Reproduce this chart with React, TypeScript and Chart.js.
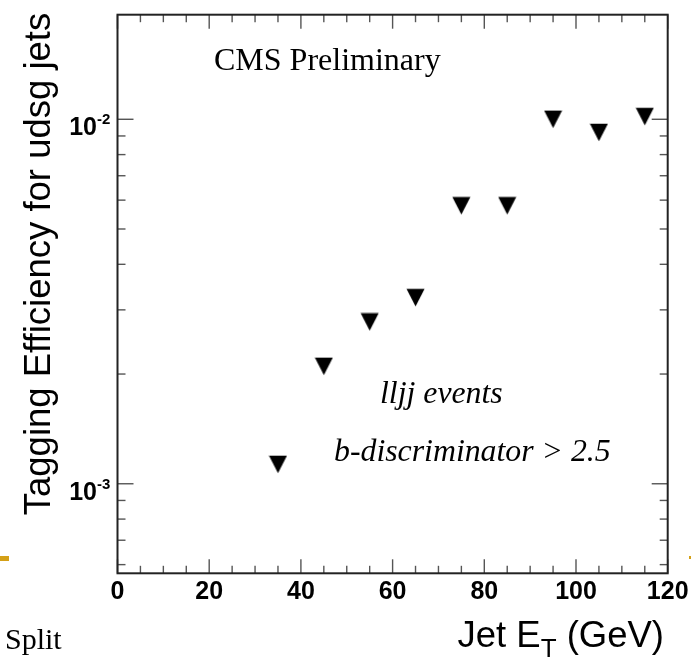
import React, { useEffect, useRef } from "react";
import { Chart, registerables } from "chart.js";

Chart.register(...registerables);

// ---- data ----
const jetEt = [35, 45, 55, 65, 75, 85, 95, 105, 115];
const udsgEfficiency = [0.00113, 0.0021, 0.00278, 0.00324, 0.00579, 0.00579, 0.0100, 0.0092, 0.01017];

const xMajorTicks = [0, 20, 40, 60, 80, 100, 120];
const xMinorStep = 5;
const yDecades = [-3, -2];
const yMinorMultipliers = [2, 3, 4, 5, 6, 7, 8, 9];

const X_MIN = 0;
const X_MAX = 120;
const Y_MIN = 0.000568;
const Y_MAX = 0.01936;

const yTitle = "Tagging Efficiency for udsg jets";
const xTitleMain = "Jet E";
const xTitleSub = "T";
const xTitleTail = " (GeV)";
const cmsLabel = "CMS Preliminary";
const noteLine1 = "lljj events";
const noteLine2 = "b-discriminator > 2.5";
const slideLabel = "Split";

function makeTriangle(): HTMLCanvasElement {
  const c = document.createElement("canvas");
  c.width = 19;
  c.height = 19;
  const g = c.getContext("2d")!;
  g.fillStyle = "#000";
  g.beginPath();
  g.moveTo(0.5, 0.8);
  g.lineTo(18.5, 0.8);
  g.lineTo(9.5, 18.3);
  g.closePath();
  g.fill();
  return c;
}

const rootStyle = {
  id: "rootStyle",
  afterDraw(chart: any) {
    const { ctx, chartArea: a } = chart;
    const xs = chart.scales.x;
    const ys = chart.scales.y;
    ctx.save();

    // tick marks (inside frame, all four sides)
    ctx.strokeStyle = "#555";
    ctx.lineWidth = 1.4;
    const line = (x1: number, y1: number, x2: number, y2: number) => {
      ctx.beginPath();
      ctx.moveTo(x1, y1);
      ctx.lineTo(x2, y2);
      ctx.stroke();
    };
    for (let v = X_MIN; v <= X_MAX; v += xMinorStep) {
      const px = xs.getPixelForValue(v);
      const len = xMajorTicks.includes(v) ? 14 : 7.5;
      line(px, a.bottom, px, a.bottom - len);
      line(px, a.top, px, a.top + len);
    }
    for (const d of [-4, ...yDecades]) {
      const base = Math.pow(10, d);
      const pMaj = ys.getPixelForValue(base);
      if (base >= Y_MIN && base <= Y_MAX) {
        line(a.left, pMaj, a.left + 16, pMaj);
        line(a.right, pMaj, a.right - 16, pMaj);
      }
      for (const m of yMinorMultipliers) {
        const v = m * base;
        if (v < Y_MIN || v > Y_MAX) continue;
        const p = ys.getPixelForValue(v);
        line(a.left, p, a.left + 8, p);
        line(a.right, p, a.right - 8, p);
      }
    }

    // frame
    ctx.strokeStyle = "#222";
    ctx.lineWidth = 2;
    ctx.strokeRect(a.left, a.top, a.right - a.left, a.bottom - a.top);

    // x tick labels
    ctx.fillStyle = "#000";
    ctx.font = 'bold 25px "Liberation Sans", Arial, sans-serif';
    ctx.textAlign = "center";
    ctx.textBaseline = "alphabetic";
    for (const v of xMajorTicks) {
      ctx.fillText(String(v), xs.getPixelForValue(v), 599);
    }

    // y tick labels 10^d
    for (const d of yDecades) {
      const p = ys.getPixelForValue(Math.pow(10, d));
      ctx.font = 'bold 25px "Liberation Sans", Arial, sans-serif';
      ctx.textAlign = "right";
      ctx.fillText("10", 97, p + 16);
      ctx.font = 'bold 15px "Liberation Sans", Arial, sans-serif';
      ctx.textAlign = "left";
      ctx.fillText(String(d), 97, p + 5);
    }

    // y title
    ctx.save();
    ctx.translate(50, 264);
    ctx.rotate(-Math.PI / 2);
    ctx.font = '36.5px "Liberation Sans", Arial, sans-serif';
    ctx.textAlign = "center";
    ctx.textBaseline = "alphabetic";
    ctx.fillText(yTitle, 0, 0);
    ctx.restore();

    // x title
    const bigFont = '36.5px "Liberation Sans", Arial, sans-serif';
    const subFont = '26px "Liberation Sans", Arial, sans-serif';
    ctx.textAlign = "left";
    ctx.font = bigFont;
    const w1 = ctx.measureText(xTitleMain).width;
    const w3 = ctx.measureText(xTitleTail).width;
    ctx.font = subFont;
    const w2 = ctx.measureText(xTitleSub).width;
    const right = 664;
    let sx = right - (w1 + w2 + w3);
    ctx.font = bigFont;
    ctx.fillText(xTitleMain, sx, 647);
    sx += w1;
    ctx.font = subFont;
    ctx.fillText(xTitleSub, sx, 657);
    sx += w2;
    ctx.font = bigFont;
    ctx.fillText(xTitleTail, sx, 647);

    // annotations
    ctx.font = '32px "Liberation Serif", "Times New Roman", serif';
    ctx.fillText(cmsLabel, 214, 70);
    ctx.font = 'italic 31.8px "Liberation Serif", "Times New Roman", serif';
    ctx.fillText(noteLine1, 380, 403);
    ctx.fillText(noteLine2, 334, 461);

    ctx.restore();
  },
};

export default function App() {
  const ref = useRef<HTMLCanvasElement | null>(null);

  useEffect(() => {
    if (!ref.current) return;
    const tri = makeTriangle();
    const chart = new Chart(ref.current, {
      type: "scatter",
      data: {
        datasets: [
          {
            data: jetEt.map((x, i) => ({ x, y: udsgEfficiency[i] })),
            pointStyle: tri as any,
            pointRadius: 10,
            backgroundColor: "#000",
            borderColor: "#000",
          },
        ],
      },
      options: {
        responsive: false,
        maintainAspectRatio: false,
        animation: false,
        layout: { padding: { left: 117.5, top: 14.7, right: 23.3, bottom: 86.7 } },
        plugins: { legend: { display: false }, tooltip: { enabled: false } },
        scales: {
          x: { type: "linear", min: X_MIN, max: X_MAX, display: false },
          y: { type: "logarithmic", min: Y_MIN, max: Y_MAX, display: false },
        },
      },
      plugins: [rootStyle],
    });
    return () => chart.destroy();
  }, []);

  return (
    <div style={{ position: "absolute", left: 0, top: 0, width: 691, height: 660, background: "#fff", overflow: "hidden" }}>
      <canvas ref={ref} width={691} height={660} style={{ display: "block", width: 691, height: 660 }} />
      <div style={{ position: "absolute", left: 0, top: 556, width: 9, height: 5, background: "#d4a017" }} />
      <div style={{ position: "absolute", left: 689, top: 556, width: 2, height: 3, background: "#d4a017" }} />
      <div
        style={{
          position: "absolute",
          left: 5,
          top: 622,
          fontFamily: '"Liberation Serif", "Times New Roman", serif',
          fontSize: 30,
          lineHeight: "34px",
          color: "#000",
        }}
      >
        {slideLabel}
      </div>
    </div>
  );
}
